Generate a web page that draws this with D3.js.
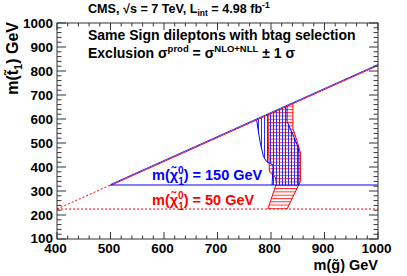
<!DOCTYPE html>
<html><head><meta charset="utf-8">
<script src="https://cdn.jsdelivr.net/npm/d3@7"></script>
<style>
html,body{margin:0;padding:0;background:#fff;}
text{font-family:"Liberation Sans",Arial,sans-serif;font-weight:bold;}
</style></head>
<body><svg id="c" width="407" height="276"></svg>
<script>
// ---- data ----
const xDomain = [400, 1000];
const yDomain = [100, 1000];
const xTicks = [400, 500, 600, 700, 800, 900, 1000];
const yTicks = [100, 200, 300, 400, 500, 600, 700, 800, 900, 1000];
const topMass = 175;
const chi150Line = 325;   // m(stop) = m(chi)+m(top) for chi=150
const chi50Line = 225;    // for chi=50
// exclusion band contours [m(gluino), m(stop)]
const blueLeft  = [[773,598],[776,554],[780,500],[786,443],[792,422],[804,408],[802,325]];
const blueRight = [[830,655],[830,590],[842,530],[851,480],[852,457],[852,325]];
const redLeft   = [[794.5,619.5],[795,500],[797,380],[808,358],[810,330],[794,225]];
const redRight  = [[841,666],[841,560],[850,500],[855,458],[855,340],[830,225]];

const svg = d3.select("#c");
const L = 57, R = 378, T = 23, B = 239;
const x = d3.scaleLinear().domain(xDomain).range([L, R]);
const y = d3.scaleLinear().domain(yDomain).range([B, T]);

const defs = svg.append("defs");
const pb = defs.append("pattern").attr("id","hb").attr("patternUnits","userSpaceOnUse")
  .attr("width",3).attr("height",10);
pb.append("line").attr("x1",0.5).attr("x2",0.5).attr("y1",0).attr("y2",10)
  .attr("stroke","#2a2aff").attr("stroke-width",1);
const pr = defs.append("pattern").attr("id","hr").attr("patternUnits","userSpaceOnUse")
  .attr("width",10).attr("height",3.3);
pr.append("line").attr("x1",0).attr("x2",10).attr("y1",0.5).attr("y2",0.5)
  .attr("stroke","#ff3030").attr("stroke-width",1);

const line = d3.line().x(d => x(d[0])).y(d => y(d[1]));
const band = (l, r) => line(l.concat(r.slice().reverse())) + "Z";

// hatched bands
svg.append("path").attr("d", band(redLeft, redRight)).attr("fill","url(#hr)");
svg.append("path").attr("d", band(blueLeft, blueRight)).attr("fill","url(#hb)");
// contours
[[redLeft,"#ff0000"],[redRight,"#ff0000"],[blueLeft,"#0000ff"],[blueRight,"#0000ff"]].forEach(([c,col]) => {
  svg.append("path").attr("d", line(c)).attr("fill","none").attr("stroke",col).attr("stroke-width",1);
});

// kinematic lines
svg.append("line").attr("x1",x(400)).attr("y1",y(400-topMass)).attr("x2",x(500)).attr("y2",y(500-topMass))
  .attr("stroke","#ff0000").attr("stroke-dasharray","2,2");
svg.append("line").attr("x1",x(500)).attr("y1",y(500-topMass)+0.5).attr("x2",x(1000)).attr("y2",y(1000-topMass)+0.5)
  .attr("stroke","#ff0000");
svg.append("line").attr("x1",x(500)).attr("y1",y(500-topMass)-0.5).attr("x2",x(1000)).attr("y2",y(1000-topMass)-0.5)
  .attr("stroke","#3030ff");
svg.append("line").attr("x1",x(500)).attr("y1",y(chi150Line)).attr("x2",x(1000)).attr("y2",y(chi150Line))
  .attr("stroke","#0000ff");
svg.append("line").attr("x1",x(400)).attr("y1",y(chi50Line)).attr("x2",x(1000)).attr("y2",y(chi50Line))
  .attr("stroke","#ff0000").attr("stroke-dasharray","2,2");

// frame and ticks
const ax = "#333";
svg.append("rect").attr("x",L).attr("y",T).attr("width",R-L).attr("height",B-T)
  .attr("fill","none").attr("stroke",ax).attr("stroke-width",1);
const xMinor = d3.range(xDomain[0], xDomain[1]+1, 20);
const yMinor = d3.range(yDomain[0], yDomain[1]+1, 20);
xMinor.forEach(v => {
  const len = (v % 100 === 0) ? 7 : 3.5;
  svg.append("line").attr("x1",x(v)).attr("x2",x(v)).attr("y1",B).attr("y2",B-len).attr("stroke",ax);
  svg.append("line").attr("x1",x(v)).attr("x2",x(v)).attr("y1",T).attr("y2",T+len).attr("stroke",ax);
});
yMinor.forEach(v => {
  const len = (v % 100 === 0) ? 9 : 4.5;
  svg.append("line").attr("y1",y(v)).attr("y2",y(v)).attr("x1",L).attr("x2",L+len).attr("stroke",ax);
  svg.append("line").attr("y1",y(v)).attr("y2",y(v)).attr("x1",R).attr("x2",R-len).attr("stroke",ax);
});
xTicks.forEach(v => {
  svg.append("text").attr("x",x(v)-1.5).attr("y",253).attr("text-anchor","middle")
    .attr("font-size",13.5).text(v);
});
yTicks.forEach(v => {
  svg.append("text").attr("x",53).attr("y",y(v)+5 - (v===100 ? 1 : 0)).attr("text-anchor","end")
    .attr("font-size",13.5).text(v);
});

// axis titles
const xt = svg.append("text").attr("x",R).attr("y",270).attr("text-anchor","end").attr("font-size",14.5);
xt.text("m(g\u0303) GeV");
const yt = svg.append("text").attr("transform","translate(18,22) rotate(-90)").attr("text-anchor","end").attr("font-size",16);
yt.append("tspan").text("m(t\u0303");
yt.append("tspan").attr("font-size",11).attr("dy",4).text("1");
yt.append("tspan").attr("dy",-4).text(") GeV");

// title
const tt = svg.append("text").attr("x",88).attr("y",13).attr("font-size",12.6);
tt.append("tspan").text("CMS, \u221As = 7 TeV, L");
tt.append("tspan").attr("font-size",8.5).attr("dy",3).text("int");
tt.append("tspan").attr("dy",-3).text(" = 4.98 fb");
tt.append("tspan").attr("font-size",8.5).attr("dy",-5).text("-1");

svg.append("text").attr("x",88).attr("y",40).attr("font-size",14).text("Same Sign dileptons with btag selection");
const ex = svg.append("text").attr("x",88).attr("y",58).attr("font-size",14);
ex.append("tspan").text("Exclusion \u03C3");
ex.append("tspan").attr("font-size",9.5).attr("dy",-6).text("prod");
ex.append("tspan").attr("dy",6).text(" = \u03C3");
ex.append("tspan").attr("font-size",9.5).attr("dy",-6).text("NLO+NLL");
ex.append("tspan").attr("dy",6).text(" \u00B1 1 \u03C3");

function chiLabel(yy, mass, col){
  const t = svg.append("text").attr("x",152).attr("y",yy).attr("font-size",14.5).attr("fill",col);
  t.append("tspan").text("m(\u03C7\u0303");
  t.append("tspan").attr("font-size",10).attr("dy",-6).text("0");
  t.append("tspan").attr("font-size",10).attr("dx",-5.5).attr("dy",11).text("1");
  t.append("tspan").attr("dy",-5).text(") = " + mass + " GeV");
}
chiLabel(180, 150, "#0000ff");
chiLabel(205, 50, "#ff0000");
</script></body></html>
